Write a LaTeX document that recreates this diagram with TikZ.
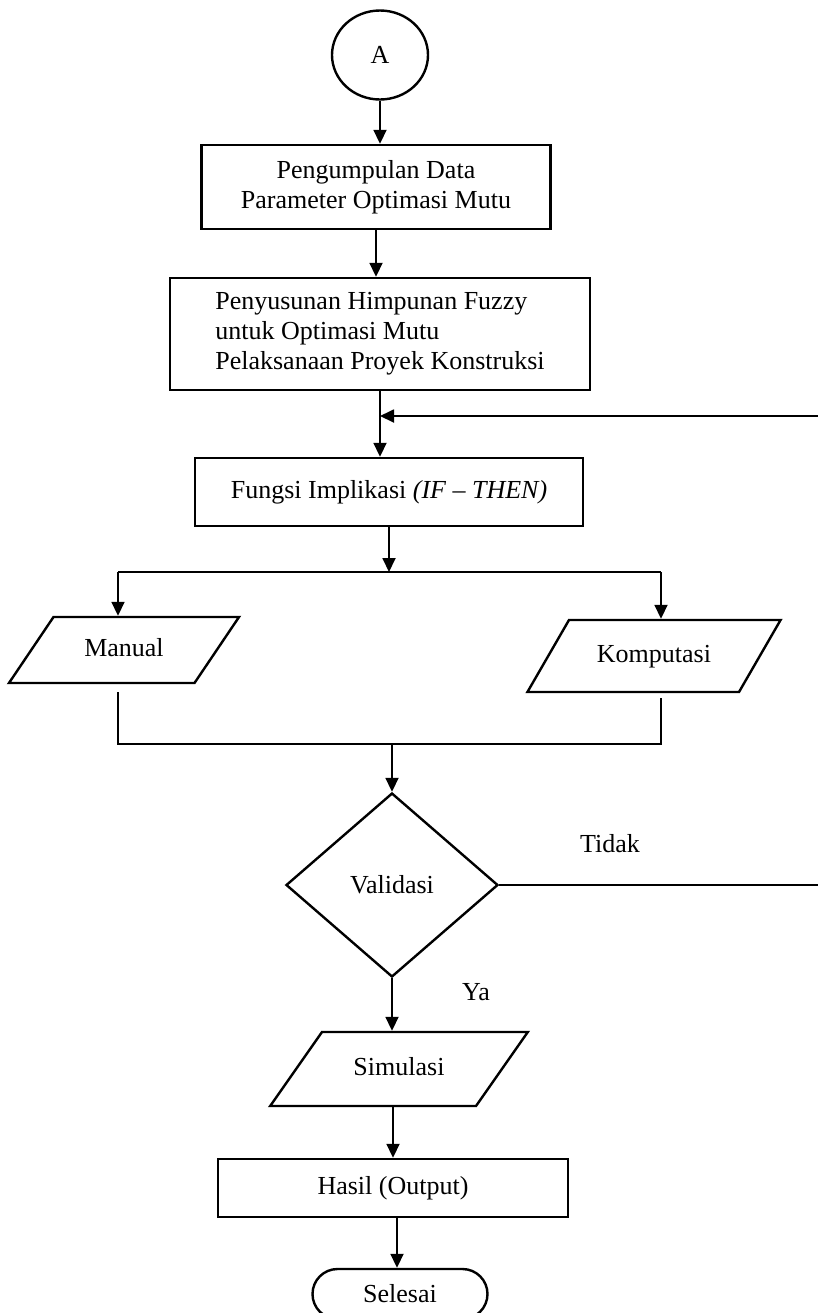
\documentclass[tikz,border=0pt]{standalone}
\usepackage{fontspec}
\setmainfont{Liberation Serif}
\usepackage{tikz}
\usetikzlibrary{shapes.geometric,arrows.meta}

\begin{document}
\begin{tikzpicture}[
    x=0.5pt, y=-0.5pt,
    every node/.style={font=\fontsize{13}{15}\selectfont},
    block/.style={rectangle, draw, line width=1.2pt, inner sep=0pt},
    iobox/.style={trapezium, draw, line width=1.2pt, inner xsep=0pt, align=center,
        text height=9pt, text depth=3pt},
    decision/.style={diamond, draw, line width=1.2pt, aspect=1.15, inner sep=0pt},
    connector/.style={ellipse, draw, line width=1.2pt, inner sep=0pt},
    terminal/.style={rectangle, rounded corners=12.5pt, draw, line width=1.2pt, inner sep=0pt},
    arrow/.style={-{Triangle[length=7pt, width=6.5pt]}, line width=0.9pt},
    link/.style={line width=0.9pt}
]
    \useasboundingbox (0,0) rectangle (818,1313);

    \node[connector, minimum width=48pt, minimum height=44.5pt] (start) at (380,55) {A};
    \node[block, minimum width=174.5pt, minimum height=42pt, align=center] (collect) at (376,187)
        {Pengumpulan Data\\Parameter Optimasi Mutu};
    \node[block, minimum width=210pt, minimum height=56pt, align=left] (fuzzyset) at (380,334)
        {Penyusunan Himpunan Fuzzy\\untuk Optimasi Mutu\\Pelaksanaan Proyek Konstruksi};
    \node[block, minimum width=194pt, minimum height=34pt] (implication) at (389,492)
        {Fungsi Implikasi \textit{(IF -- THEN)}};

    \coordinate (splitL) at (118,572);
    \coordinate (splitR) at (661,572);
    \node[iobox, trapezium left angle=56, trapezium right angle=124,
        text width=70.5pt, inner ysep=10.5pt] (manual) at (124,650) {Manual};
    \node[iobox, trapezium left angle=60, trapezium right angle=120,
        text width=85pt, inner ysep=12pt] (compute) at (654,656) {Komputasi};
    \coordinate (merge) at (392,744);

    \node[decision, minimum width=106pt, minimum height=92pt] (validate) at (392,885) {Validasi};
    \node (no) at (610,844) {Tidak};
    \node (yes) at (476,992) {Ya};
    \coordinate (loopR) at (822,885);
    \coordinate (loopT) at (822,416);

    \node[iobox, trapezium left angle=55, trapezium right angle=125,
        text width=77pt, inner ysep=12.5pt] (simulate) at (399,1069) {Simulasi};
    \node[block, minimum width=175pt, minimum height=29pt] (result) at (393,1188) {Hasil (Output)};
    \node[terminal, minimum width=87.5pt, minimum height=25pt] (finish) at (400,1294) {Selesai};

    \draw[arrow] (start.south) -- (start.south |- collect.north);
    \draw[arrow] (collect.south) -- (collect.south |- fuzzyset.north);
    \draw[arrow] (fuzzyset.south) -- (fuzzyset.south |- implication.north);
    \draw[arrow] (validate.east) -- (loopR) -- (loopT) -- (fuzzyset.south |- loopT);
    \draw[arrow] (implication.south) -- (implication.south |- splitL);
    \draw[link] (splitL) -- (splitR);
    \draw[arrow] (splitL) -- (manual.north -| splitL);
    \draw[arrow] (splitR) -- (compute.north -| splitR);
    \draw[link] ([yshift=-4pt]manual.south -| splitL) -- (splitL |- merge)
        -- (splitR |- merge) -- ([yshift=-2.5pt]compute.south -| splitR);
    \draw[arrow] (merge) -- (validate.north);
    \draw[arrow] (validate.south) -- (validate.south |- simulate.north);
    \draw[arrow] (simulate.south -| result.north) -- (result.north);
    \draw[arrow] (result.south -| 397,0) -- (finish.north -| 397,0);
\end{tikzpicture}
\end{document}
